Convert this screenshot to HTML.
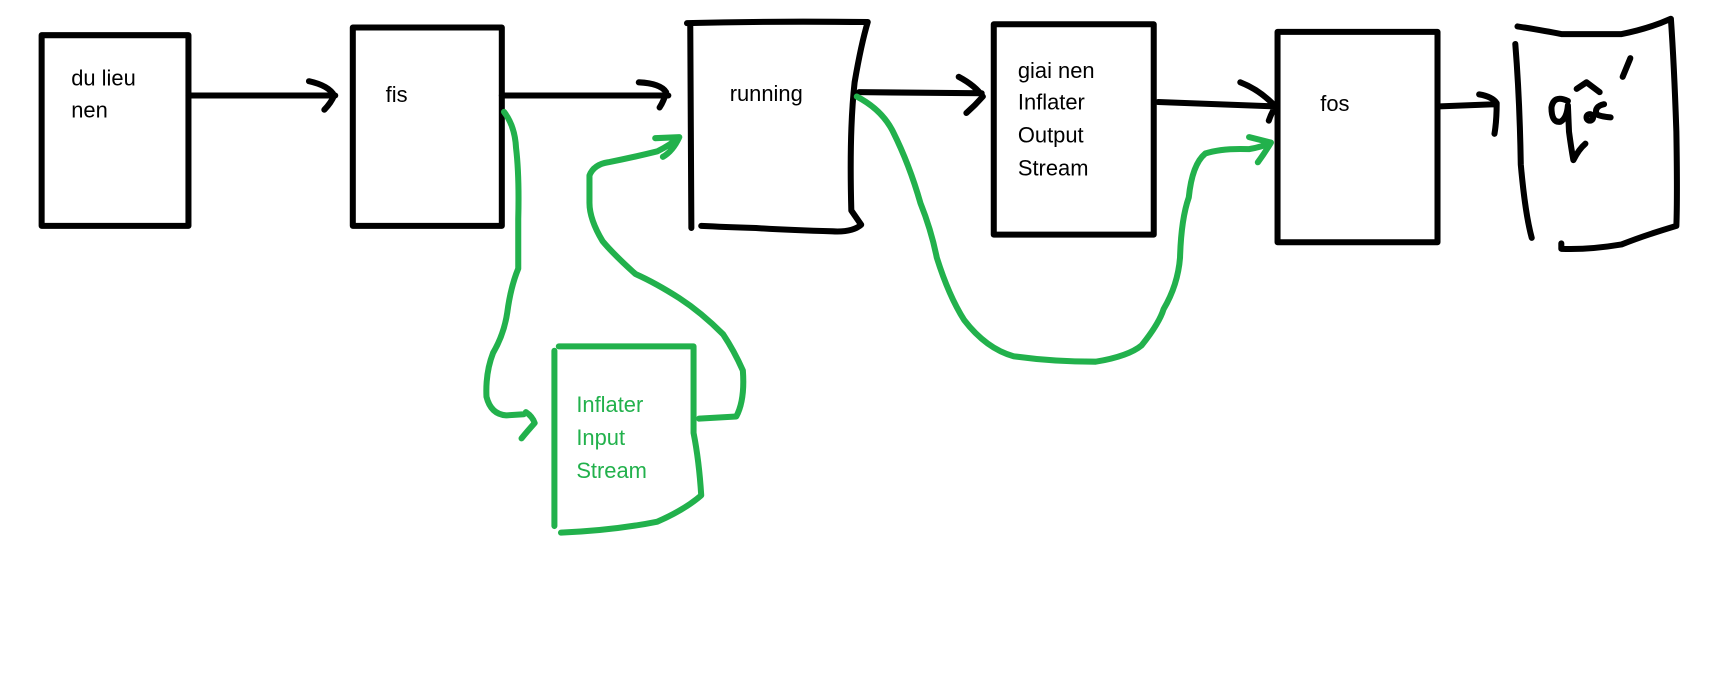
<!DOCTYPE html>
<html><head><meta charset="utf-8"><style>
html,body{margin:0;padding:0;background:#fff;}
svg{display:block;}
text{font-family:"Liberation Sans",sans-serif;font-size:20px;}
</style></head><body>
<svg width="1718" height="673" viewBox="0 0 1568 614" xmlns="http://www.w3.org/2000/svg">
<rect width="1568" height="614" fill="#fff"/>
<g fill="none" stroke="#000" stroke-width="5.5" stroke-linecap="round" stroke-linejoin="round">
<rect x="38" y="32" width="134" height="174"/>
<path d="M172 87 L306 87 M282 74 Q300 78 305 87 Q302 94 296 100"/>
<rect x="322" y="25" width="136" height="181"/>
<path d="M458 87 L610 87 M583 75 Q603 76 608 84 Q606 92 602 98"/>
<path d="M630 24 L631 208 M627 21 Q700 19 792 20 Q786 40 780 75 Q775 120 777 192 L786 205 Q778 212 760 211 Q720 210 690 208 Q660 207 640 206"/>
<path d="M784 84 L896 85 M875 70 Q890 78 897 88 Q890 96 882 103"/>
<rect x="907" y="22" width="146" height="192"/>
<path d="M1057 93 L1163 97 M1132 75 Q1150 82 1164 97 Q1160 104 1158 110"/>
<rect x="1166" y="29" width="146" height="192"/>
<path d="M1314 97 L1364 95 M1350 86 Q1362 88 1366 94 Q1366 110 1364 122"/>
<path d="M1385 24 Q1410 28 1425 31 L1480 31 Q1505 26 1525 17 Q1528 60 1530 120 Q1531 180 1530 206 Q1500 215 1480 223 Q1450 228 1425 227 L1425 222"/>
<path d="M1383 40 Q1387 90 1388 150 Q1392 195 1398 217"/>
<path d="M1431 92 Q1418 86 1416 98 Q1416 112 1424 111 Q1430 108 1431 96 L1432 120 Q1434 135 1436 146 Q1441 136 1447 131"/>
<path d="M1439 81 L1448 75 L1460 84"/>
<path d="M1470 107 Q1460 106 1457 104 Q1455 97 1464 95"/>
<path d="M1488 53 L1481 70"/>
<circle cx="1451" cy="107" r="3"/>
</g>
<g font-size="20">
<text x="65" y="78">du lieu</text>
<text x="65" y="107">nen</text>
<text x="352" y="93">fis</text>
<text x="666" y="92">running</text>
<text x="929" y="71">giai nen</text>
<text x="929" y="100">Inflater</text>
<text x="929" y="130">Output</text>
<text x="929" y="160">Stream</text>
<text x="1205" y="101">fos</text>
</g>
<g fill="none" stroke="#22b14c" stroke-width="5.5" stroke-linecap="round" stroke-linejoin="round">
<path d="M460 102 Q470 115 471 135 Q474 160 473 200 L473 245 Q466 262 463 285 Q460 305 450 322 Q443 340 444 362 Q448 378 462 379 L478 378 M480 376 Q486 380 488 386 Q480 395 476 400"/>
<path d="M506 320 L506 480 M510 316 L633 316 L633 395 Q638 420 640 452 Q625 465 600 476 Q560 484 512 486"/>
<path d="M638 382 L672 380 Q680 365 678 338 Q670 320 660 305 Q640 285 620 272 Q598 258 580 250 Q560 232 550 220 Q538 200 538 185 L538 160 Q542 150 555 148 Q580 143 600 138 Q612 132 620 125 M598 126 L620 125 Q614 138 605 143"/>
<path d="M782 88 Q805 100 815 120 Q830 150 840 185 Q850 210 855 235 Q866 270 880 292 Q900 318 925 325 Q960 330 1000 330 Q1030 325 1042 315 Q1058 295 1062 282 Q1075 260 1077 235 Q1078 200 1085 180 Q1088 150 1100 140 Q1115 135 1140 136 Q1152 134 1160 130 M1140 125 L1160 130 Q1154 140 1148 148"/>
</g>
<g fill="#22b14c" font-size="20">
<text x="526" y="376">Inflater</text>
<text x="526" y="406">Input</text>
<text x="526" y="436">Stream</text>
</g>
</svg>
</body></html>
